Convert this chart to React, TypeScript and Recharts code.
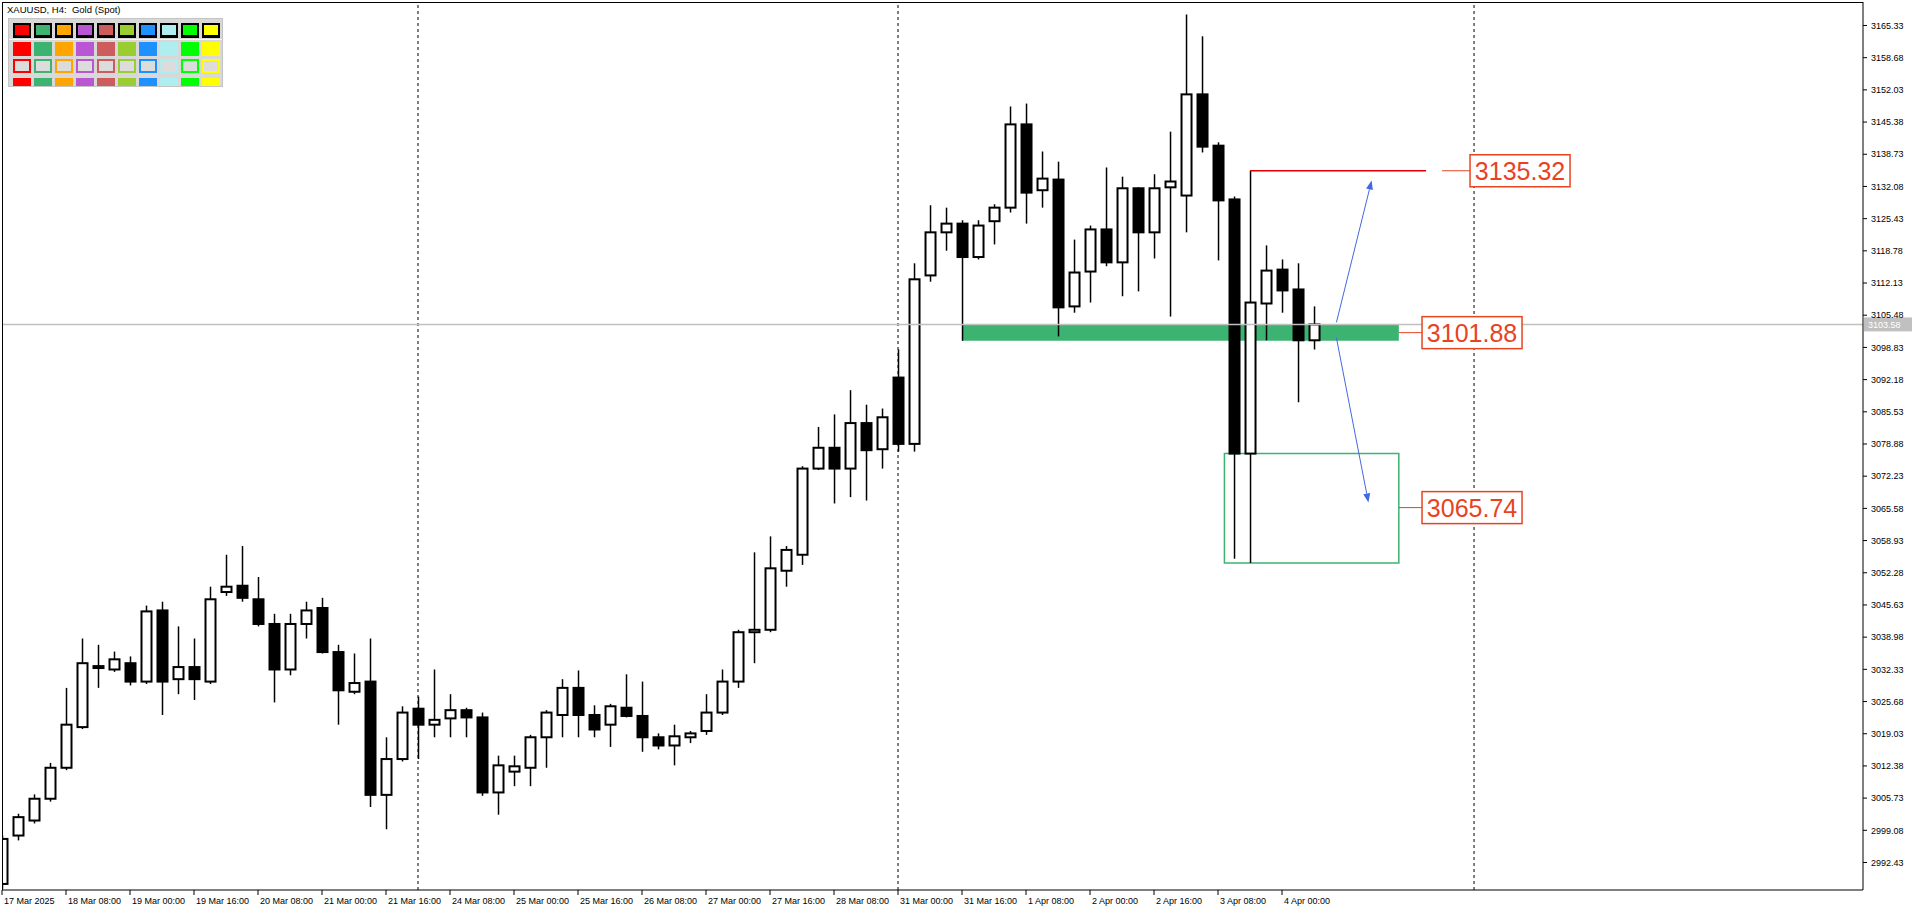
import React from 'react';
import { ComposedChart, Bar, XAxis, YAxis, ReferenceLine, ReferenceArea, ReferenceDot } from 'recharts';

const FONT = "'Liberation Sans', Arial, sans-serif";
const TAG = '#e8431e';
const GREEN = '#3cb371';

// H4 bars, one label every 4 bars
const timeTicks = [0, 4, 8, 12, 16, 20, 24, 28, 32, 36, 40, 44, 48, 52, 56, 60, 64, 68, 72, 76, 80];
const timeLabels = [
  '17 Mar 2025', '18 Mar 08:00', '19 Mar 00:00', '19 Mar 16:00', '20 Mar 08:00', '21 Mar 00:00',
  '21 Mar 16:00', '24 Mar 08:00', '25 Mar 00:00', '25 Mar 16:00', '26 Mar 08:00', '27 Mar 00:00',
  '27 Mar 16:00', '28 Mar 08:00', '31 Mar 00:00', '31 Mar 16:00', '1 Apr 08:00', '2 Apr 00:00',
  '2 Apr 16:00', '3 Apr 08:00', '4 Apr 00:00',
];

const priceTicks = [
  2992.43, 2999.08, 3005.73, 3012.38, 3019.03, 3025.68, 3032.33, 3038.98, 3045.63, 3052.28,
  3058.93, 3065.58, 3072.23, 3078.88, 3085.53, 3092.18, 3098.83, 3105.48, 3112.13, 3118.78,
  3125.43, 3132.08, 3138.73, 3145.38, 3152.03, 3158.68, 3165.33,
];

const opens = [
  2988.0, 2998.0, 3001.1, 3005.6, 3012.0, 3020.4, 3032.6, 3032.3, 3033.6, 3029.8,
  3044.5, 3030.3, 3032.8, 3029.8, 3048.3, 3049.6, 3046.8, 3041.7, 3032.3, 3041.7,
  3045.0, 3035.9, 3027.7, 3029.8, 3006.4, 3013.8, 3024.2, 3020.9, 3022.2, 3023.9,
  3022.4, 3006.9, 3011.2, 3012.0, 3018.3, 3022.9, 3028.5, 3022.9, 3020.9, 3024.4,
  3022.7, 3018.3, 3016.6, 3018.3, 3019.6, 3023.4, 3029.8, 3040.0, 3040.5, 3052.7,
  3056.0, 3073.8, 3078.1, 3073.8, 3083.2, 3077.8, 3092.6, 3078.9, 3113.7, 3122.6,
  3124.4, 3117.5, 3124.9, 3127.7, 3144.9, 3131.3, 3133.5, 3107.3, 3114.5, 3123.2,
  3116.4, 3131.7, 3122.6, 3131.9, 3130.2, 3151.1, 3140.5, 3129.4, 3076.9, 3107.9,
  3114.9, 3110.8, 3100.3,
];
const highs = [
  2998.0, 3002.5, 3006.5, 3013.0, 3028.5, 3038.7, 3037.4, 3036.0, 3035.0, 3045.5,
  3046.3, 3041.2, 3038.7, 3049.4, 3056.0, 3057.8, 3051.4, 3043.8, 3043.8, 3046.3,
  3047.1, 3037.4, 3035.6, 3038.7, 3018.3, 3024.7, 3026.7, 3032.3, 3027.2, 3024.4,
  3023.4, 3014.5, 3014.5, 3018.8, 3023.9, 3030.3, 3032.1, 3024.9, 3025.2, 3031.3,
  3029.8, 3019.1, 3020.9, 3019.6, 3027.2, 3032.3, 3040.5, 3056.5, 3059.8, 3057.8,
  3074.3, 3082.4, 3085.0, 3090.0, 3087.0, 3086.2, 3098.4, 3116.2, 3128.2, 3127.7,
  3125.1, 3125.1, 3128.4, 3148.6, 3149.2, 3139.3, 3137.2, 3121.1, 3124.0, 3136.0,
  3134.1, 3131.9, 3134.6, 3143.4, 3167.6, 3163.1, 3141.2, 3130.0, 3135.32, 3119.9,
  3117.0, 3116.2, 3107.3,
];
const lows = [
  2987.0, 2997.0, 3000.5, 3005.0, 3011.5, 3020.0, 3028.5, 3031.8, 3029.0, 3029.3,
  3022.9, 3027.2, 3026.0, 3029.3, 3047.5, 3046.3, 3041.2, 3025.5, 3031.1, 3038.7,
  3035.6, 3020.9, 3027.2, 3003.9, 2999.3, 3013.3, 3013.8, 3018.3, 3018.3, 3018.3,
  3006.2, 3002.3, 3008.2, 3008.2, 3012.0, 3018.3, 3018.3, 3018.3, 3016.3, 3022.4,
  3015.3, 3015.8, 3012.5, 3017.1, 3018.8, 3022.9, 3028.5, 3033.6, 3040.0, 3049.4,
  3053.9, 3073.5, 3066.6, 3067.9, 3067.2, 3073.8, 3077.3, 3077.3, 3112.4, 3118.8,
  3100.2, 3117.0, 3120.1, 3126.7, 3124.4, 3127.7, 3101.1, 3106.0, 3108.1, 3115.6,
  3109.4, 3110.4, 3117.2, 3105.2, 3122.6, 3139.1, 3116.8, 3055.2, 3054.3, 3100.3,
  3106.0, 3087.5, 3098.4,
];
const closes = [
  2997.3, 3001.8, 3005.6, 3012.0, 3020.9, 3033.6, 3033.0, 3034.4, 3029.8, 3044.3,
  3029.8, 3032.8, 3030.3, 3046.8, 3049.4, 3047.1, 3041.7, 3032.3, 3041.7, 3044.5,
  3035.9, 3028.0, 3029.5, 3006.4, 3013.8, 3023.4, 3020.9, 3021.9, 3023.9, 3022.4,
  3006.9, 3012.5, 3012.3, 3018.3, 3023.4, 3028.5, 3022.9, 3019.9, 3024.7, 3022.7,
  3018.3, 3016.6, 3018.5, 3019.1, 3023.4, 3029.8, 3040.0, 3040.5, 3053.2, 3057.0,
  3073.8, 3078.1, 3073.8, 3083.2, 3077.6, 3084.4, 3078.9, 3112.9, 3122.6, 3124.4,
  3117.5, 3124.0, 3127.7, 3144.9, 3130.8, 3133.7, 3107.1, 3114.3, 3123.2, 3116.4,
  3131.7, 3122.6, 3131.7, 3133.1, 3151.1, 3140.3, 3129.2, 3076.9, 3108.1, 3114.7,
  3110.6, 3100.3, 3103.58,
];

// annotations (bar index / price)
const weekSeparators = [26, 56, 92];
const lastPrice = 3103.58;
const resistance = 3135.32;
const support = 3101.88;
const target = 3065.74;
const supportBand = [3100.2, 3103.6];
const targetBox = [3054.3, 3076.9];

const paletteColors = ['#ff0000', '#3cb371', '#ffa500', '#ba55d3', '#cd5c5c', '#9acd32', '#1e90ff', '#afeeee', '#00ff00', '#ffff00'];

const candles = opens.map((o, i) => ({
  i,
  o,
  h: highs[i],
  l: lows[i],
  c: closes[i],
  range: [lows[i], highs[i]],
}));

const Candle = (props: any) => {
  const { x, y, width, height, payload } = props;
  const { o, h, l, c } = payload;
  const cx = x + width / 2;
  const top = Math.min(y, y + height);
  const span = Math.abs(height);
  const k = h - l > 0 ? span / (h - l) : 0;
  const bTop = top + (h - Math.max(o, c)) * k;
  const bBot = top + (h - Math.min(o, c)) * k;
  const up = c >= o;
  return (
    <g>
      <line x1={cx} x2={cx} y1={top} y2={top + span} stroke="#000" strokeWidth={1.5} />
      <rect
        x={cx - 5}
        y={bTop}
        width={10}
        height={Math.max(bBot - bTop, 1)}
        fill={up ? '#fff' : '#000'}
        stroke="#000"
        strokeWidth={2}
      />
    </g>
  );
};

const TimeTick = (props: any) => {
  const { x, y, payload } = props;
  const idx = timeTicks.indexOf(payload.value);
  return (
    <text x={x + 2} y={y + 9} fontSize={9} fontFamily={FONT} fill="#000" textAnchor="start">
      {timeLabels[idx]}
    </text>
  );
};

const PriceTag = ({ cx, cy, text }: any) => (
  <g>
    <rect x={cx} y={cy - 16} width={100} height={32} fill="#fff" stroke={TAG} strokeWidth={1.5} />
    <text x={cx + 50} y={cy + 9} fontSize={25} fontFamily={FONT} fill={TAG} textAnchor="middle">
      {text}
    </text>
  </g>
);

const Arrow = (props: any) => {
  const { x1, y1, x2, y2 } = props;
  const a = Math.atan2(y2 - y1, x2 - x1);
  const len = 9;
  const w = 3.5;
  const bx = x2 - len * Math.cos(a);
  const by = y2 - len * Math.sin(a);
  const px = -Math.sin(a) * w;
  const py = Math.cos(a) * w;
  return (
    <g>
      <line x1={x1} y1={y1} x2={bx} y2={by} stroke="#4169e1" strokeWidth={1} />
      <polygon points={`${x2},${y2} ${bx + px},${by + py} ${bx - px},${by - py}`} fill="#4169e1" />
    </g>
  );
};

const LastPriceLabel = (props: any) => {
  const vb = props.viewBox || {};
  const x = (vb.x ?? 0) + (vb.width ?? 0) + 1;
  const y = vb.y ?? 0;
  return (
    <g>
      <rect x={x} y={y - 7} width={48} height={14} fill="#c0c0c0" />
      <text x={x + 4} y={y + 4} fontSize={9} fontFamily={FONT} fill="#fff">
        {lastPrice.toFixed(2)}
      </text>
    </g>
  );
};

function Palette() {
  return (
    <div style={{ position: 'absolute', left: 8, top: 18, width: 215, height: 69, background: '#d8d8d8', border: '1px solid #c4c4c4', boxSizing: 'border-box' }}>
      {paletteColors.map((col, k) => (
        <React.Fragment key={col}>
          <div style={{ position: 'absolute', left: 4 + 21 * k, top: 4, width: 18, height: 15, boxSizing: 'border-box', border: '2px solid #000', borderBottomWidth: 3, background: col }} />
          <div style={{ position: 'absolute', left: 4 + 21 * k, top: 23, width: 18, height: 14, background: col }} />
          <div style={{ position: 'absolute', left: 4 + 21 * k, top: 40, width: 18, height: 14, boxSizing: 'border-box', border: `2px solid ${col}`, background: '#dcdcdc' }} />
          <div style={{ position: 'absolute', left: 4 + 21 * k, top: 59, width: 18, height: 8, background: col }} />
        </React.Fragment>
      ))}
      <div style={{ position: 'absolute', left: 0, top: 20, width: 213, height: 1, background: '#f4f4f4' }} />
    </div>
  );
}

export default function App() {
  return (
    <div style={{ position: 'relative', width: 1916, height: 911, background: '#fff' }}>
      <style>{'body{margin:0}'}</style>
      <ComposedChart
        width={1916}
        height={911}
        data={candles}
        margin={{ top: 2, right: 0, bottom: 0, left: 2 }}
        barSize={11}
      >
        <XAxis
          dataKey="i"
          type="number"
          domain={[0, 116.31]}
          allowDataOverflow
          ticks={timeTicks}
          tick={<TimeTick />}
          tickSize={5}
          tickMargin={0}
          height={21}
          axisLine={{ stroke: '#000', strokeWidth: 1 }}
          tickLine={{ stroke: '#000' }}
          interval={0}
        />
        <YAxis
          orientation="right"
          type="number"
          domain={[2986.75, 3170.18]}
          allowDataOverflow
          ticks={priceTicks}
          tickFormatter={(v: number) => v.toFixed(2)}
          tick={{ fontSize: 9, fontFamily: FONT, fill: '#000' }}
          tickSize={4}
          tickMargin={4}
          width={53}
          axisLine={{ stroke: '#000', strokeWidth: 1 }}
          tickLine={{ stroke: '#000' }}
          interval={0}
        />
        <ReferenceArea x1={60} x2={87.3} y1={supportBand[0]} y2={supportBand[1]} fill={GREEN} fillOpacity={1} stroke="none" ifOverflow="visible" />
        <ReferenceArea x1={76.4} x2={87.3} y1={targetBox[0]} y2={targetBox[1]} fill="none" fillOpacity={0} stroke={GREEN} strokeWidth={1.5} ifOverflow="visible" />
        {weekSeparators.map((s) => (
          <ReferenceLine key={s} x={s} stroke="#000" strokeWidth={1} strokeDasharray="3 3" />
        ))}
        <ReferenceLine y={lastPrice} stroke="#c0c0c0" strokeWidth={1.5} label={<LastPriceLabel />} />
        <Bar dataKey="range" shape={<Candle />} isAnimationActive={false} />
        <ReferenceLine segment={[{ x: 78, y: resistance }, { x: 89, y: resistance }]} stroke="#e00000" strokeWidth={1.5} ifOverflow="visible" />
        <ReferenceLine segment={[{ x: 90, y: resistance }, { x: 91.75, y: resistance }]} stroke={TAG} strokeWidth={1} ifOverflow="visible" />
        <ReferenceLine segment={[{ x: 87.3, y: support }, { x: 88.75, y: support }]} stroke={TAG} strokeWidth={1} ifOverflow="visible" />
        <ReferenceLine segment={[{ x: 87.3, y: target }, { x: 88.75, y: target }]} stroke={TAG} strokeWidth={1} ifOverflow="visible" />
        <ReferenceLine segment={[{ x: 83.4, y: 3104.0 }, { x: 85.6, y: 3133.3 }]} shape={<Arrow />} ifOverflow="visible" />
        <ReferenceLine segment={[{ x: 83.4, y: 3100.8 }, { x: 85.4, y: 3066.8 }]} shape={<Arrow />} ifOverflow="visible" />
        <ReferenceDot x={91.75} y={resistance} r={0} ifOverflow="visible" shape={(p: any) => <PriceTag cx={p.cx} cy={p.cy} text={resistance.toFixed(2)} />} />
        <ReferenceDot x={88.75} y={support} r={0} ifOverflow="visible" shape={(p: any) => <PriceTag cx={p.cx} cy={p.cy} text={support.toFixed(2)} />} />
        <ReferenceDot x={88.75} y={target} r={0} ifOverflow="visible" shape={(p: any) => <PriceTag cx={p.cx} cy={p.cy} text={target.toFixed(2)} />} />
      </ComposedChart>
      <div style={{ position: 'absolute', left: 2, top: 2, width: 1861, height: 888, borderLeft: '1px solid #000', borderTop: '1px solid #000', pointerEvents: 'none', boxSizing: 'border-box' }} />
      <div style={{ position: 'absolute', left: 7, top: 4, fontSize: 9.5, fontFamily: FONT, whiteSpace: 'pre', color: '#000' }}>
        {'XAUUSD, H4:  Gold (Spot)'}
      </div>
      <Palette />
    </div>
  );
}
